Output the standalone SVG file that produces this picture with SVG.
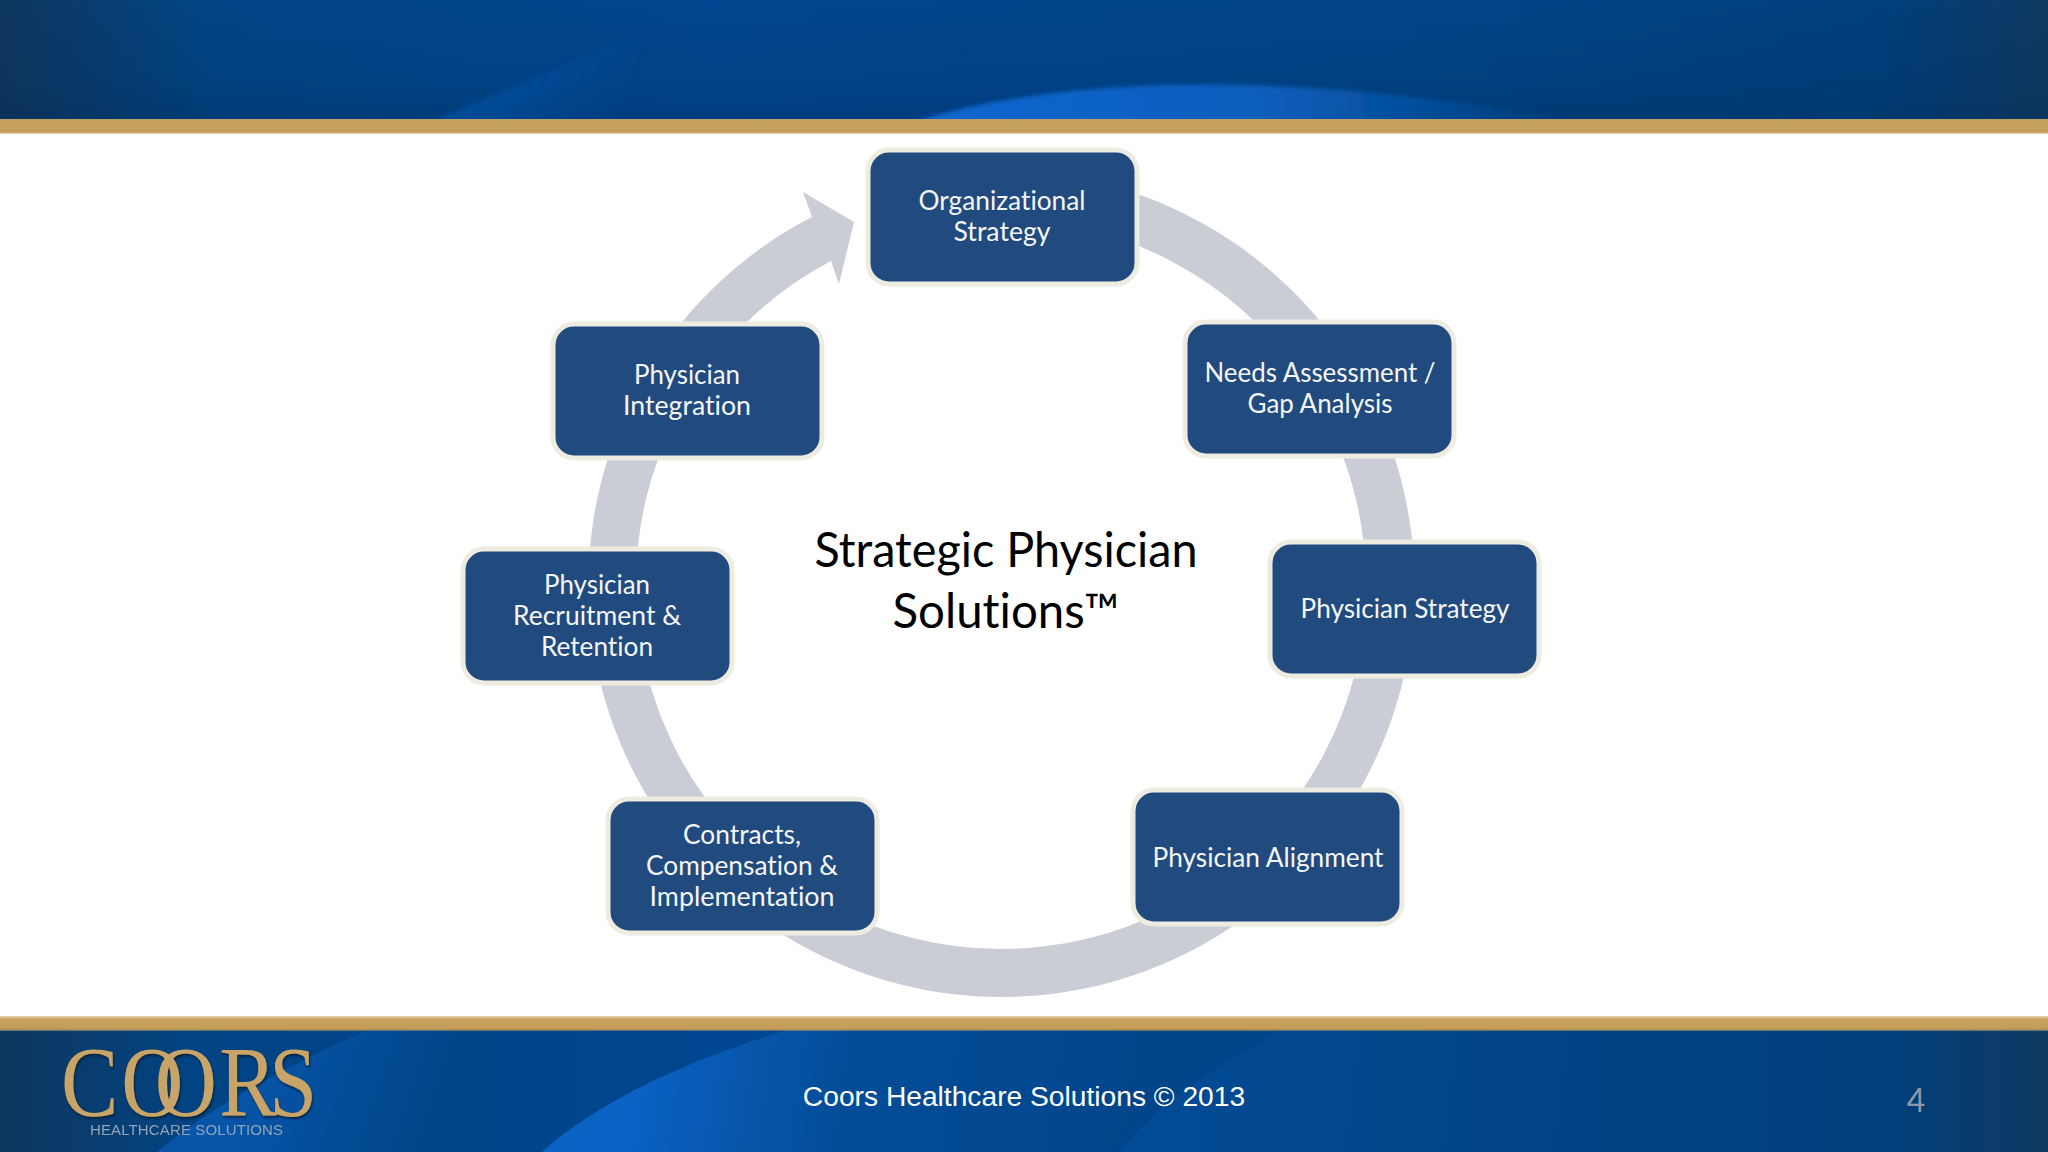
<svg xmlns="http://www.w3.org/2000/svg" width="2048" height="1152" viewBox="0 0 2048 1152">
<style>
.box{fill:#214a7e;stroke:#eeece1;stroke-width:5}
.lbl{font-family:"Lato","Noto Sans",sans-serif;font-size:26px;fill:#f4f6fa;text-anchor:middle;font-variant-ligatures:none}
.title{font-family:"Lato","Noto Sans",sans-serif;font-size:48px;fill:#000;text-anchor:middle;font-variant-ligatures:none}
.logo{font-family:"Liberation Serif",serif;font-size:100px;fill:#c8a468}
</style>
<defs>
<linearGradient id="bar" x1="0" x2="1" y1="0" y2="0">
<stop offset="0" stop-color="#10375f"/><stop offset=".1" stop-color="#004484"/><stop offset=".35" stop-color="#004690"/><stop offset=".7" stop-color="#004486"/><stop offset=".92" stop-color="#003f7c"/><stop offset="1" stop-color="#103a62"/>
</linearGradient>
<linearGradient id="shade" x1="0" x2="0" y1="0" y2="1">
<stop offset="0" stop-color="#001c40" stop-opacity="0"/><stop offset=".7" stop-color="#001c40" stop-opacity=".1"/><stop offset="1" stop-color="#001c40" stop-opacity=".22"/>
</linearGradient>
<linearGradient id="gold" x1="0" x2="0" y1="0" y2="1">
<stop offset="0" stop-color="#b8a26c"/><stop offset=".2" stop-color="#c8a45c"/><stop offset=".85" stop-color="#c49c58"/><stop offset="1" stop-color="#e8d8bc"/>
</linearGradient>
<linearGradient id="gold2" x1="0" x2="0" y1="0" y2="1">
<stop offset="0" stop-color="#e8d8bc"/><stop offset=".2" stop-color="#c8a45c"/><stop offset=".85" stop-color="#c49c58"/><stop offset="1" stop-color="#5a7078"/>
</linearGradient>
<linearGradient id="hdrSw" gradientUnits="userSpaceOnUse" x1="950" y1="0" x2="1570" y2="0">
<stop offset="0" stop-color="#0a66cf"/><stop offset=".5" stop-color="#0a5ebc"/><stop offset="1" stop-color="#0a5ebc" stop-opacity="0"/>
</linearGradient>
<linearGradient id="hdrW" gradientUnits="userSpaceOnUse" x1="470" y1="60" x2="620" y2="120">
<stop offset="0" stop-color="#0a58b4" stop-opacity=".55"/><stop offset="1" stop-color="#0a58b4" stop-opacity="0"/>
</linearGradient>
<linearGradient id="ftSw" gradientUnits="userSpaceOnUse" x1="640" y1="1070" x2="1150" y2="1150">
<stop offset="0" stop-color="#0a62c4"/><stop offset=".4" stop-color="#054e9a" stop-opacity=".8"/><stop offset="1" stop-color="#054e9a" stop-opacity="0"/>
</linearGradient>
<linearGradient id="ftL" gradientUnits="userSpaceOnUse" x1="250" y1="1070" x2="430" y2="1130">
<stop offset="0" stop-color="#0a5cb8" stop-opacity=".7"/><stop offset="1" stop-color="#0a5cb8" stop-opacity="0"/>
</linearGradient>
<linearGradient id="ftR" gradientUnits="userSpaceOnUse" x1="1180" y1="1080" x2="1560" y2="1130">
<stop offset="0" stop-color="#0a58b0" stop-opacity=".3"/><stop offset="1" stop-color="#0a58b0" stop-opacity="0"/>
</linearGradient>
<filter id="soft" x="-5%" y="-20%" width="110%" height="140%"><feGaussianBlur stdDeviation=".6"/></filter>
<filter id="blur" x="-5%" y="-20%" width="110%" height="140%"><feGaussianBlur stdDeviation="2"/></filter>
<filter id="logoSh" x="-5%" y="-10%" width="110%" height="125%"><feDropShadow dx="1" dy="2" stdDeviation="1.2" flood-color="#06142c" flood-opacity=".8"/></filter>
</defs>

<rect width="2048" height="1152" fill="#ffffff"/>

<g id="header">
<rect width="2048" height="120" fill="url(#bar)"/>
<rect width="2048" height="120" fill="url(#shade)"/>
<path d="M431 122 L679 15 L640 122 Z" fill="url(#hdrW)" filter="url(#blur)"/>
<path d="M914 122 C1000 94 1120 82 1241 85 C1340 87 1470 100 1580 122 Z" fill="url(#hdrSw)" filter="url(#blur)"/>
<rect y="119" width="2048" height="15" fill="url(#gold)"/>
</g>

<g id="footer">
<rect y="1031" width="2048" height="121" fill="url(#bar)"/>
<path d="M366 1031 C300 1060 220 1100 157 1152 L560 1152 L620 1031 Z" fill="url(#ftL)"/>
<path d="M784 1031 C690 1060 600 1100 542 1152 L1110 1152 L1310 1031 Z" fill="url(#ftSw)"/>
<path d="M1280 1031 C1210 1070 1150 1110 1120 1152 L1600 1152 L1700 1031 Z" fill="url(#ftR)"/>
<rect y="1016" width="2048" height="15" fill="url(#gold2)"/>
</g>

<g id="logo">
<text class="logo" transform="scale(.86 1)" y="1115" x="71 141 180 255 313" filter="url(#logoSh)">COORS</text>
<text x="90" y="1135" font-family="Liberation Sans, sans-serif" font-size="15" fill="#93a3b8" textLength="193" lengthAdjust="spacing" filter="url(#soft)">HEALTHCARE SOLUTIONS</text>
</g>

<text id="footer-text" x="1024" y="1106" font-family="Liberation Sans, sans-serif" font-size="28.2" fill="#ffffff" text-anchor="middle">Coors Healthcare Solutions © 2013</text>
<text id="page-number" x="1916" y="1112" font-family="Lato, sans-serif" font-size="32" fill="#8e9aac" text-anchor="middle">4</text>

<g id="connectors">
<path d="M812 217 A413 413 0 1 0 1002 171 L1002 219 A365 365 0 1 1 831 261 L839 284 L854 222 L803 192 Z" fill="#cacdd6"/>
</g>

<g id="center-title">
<text class="title" x="1006" y="567" textLength="383" lengthAdjust="spacingAndGlyphs">Strategic Physician</text>
<text class="title" x="1006" y="628" textLength="227" lengthAdjust="spacingAndGlyphs">Solutions™</text>
</g>

<g id="node-organizational-strategy" transform="translate(1002 217)">
<rect class="box" x="-134" y="-67" width="269" height="134" rx="21"/>
<text class="lbl" y="-7" textLength="167" lengthAdjust="spacingAndGlyphs">Organizational</text>
<text class="lbl" y="24" textLength="97" lengthAdjust="spacingAndGlyphs">Strategy</text>
</g>
<g id="node-needs-assessment" transform="translate(1319 389)">
<rect class="box" x="-134" y="-67" width="269" height="134" rx="21"/>
<text class="lbl" y="-7" textLength="231" lengthAdjust="spacingAndGlyphs" x="1">Needs Assessment /</text>
<text class="lbl" y="24" textLength="145" lengthAdjust="spacingAndGlyphs" x="1">Gap Analysis</text>
</g>
<g id="node-physician-strategy" transform="translate(1404 609)">
<rect class="box" x="-134" y="-67" width="269" height="134" rx="21"/>
<text class="lbl" y="9" textLength="209" lengthAdjust="spacingAndGlyphs" x="1">Physician Strategy</text>
</g>
<g id="node-physician-alignment" transform="translate(1267 857)">
<rect class="box" x="-134" y="-67" width="269" height="134" rx="21"/>
<text class="lbl" y="10" textLength="231" lengthAdjust="spacingAndGlyphs" x="1">Physician Alignment</text>
</g>
<g id="node-contracts" transform="translate(742 866)">
<rect class="box" x="-134" y="-67" width="269" height="134" rx="21"/>
<text class="lbl" y="-22" textLength="118" lengthAdjust="spacingAndGlyphs">Contracts,</text>
<text class="lbl" y="9" textLength="192" lengthAdjust="spacingAndGlyphs">Compensation &amp;</text>
<text class="lbl" y="40" textLength="185" lengthAdjust="spacingAndGlyphs">Implementation</text>
</g>
<g id="node-recruitment" transform="translate(597 616)">
<rect class="box" x="-134" y="-67" width="269" height="134" rx="21"/>
<text class="lbl" y="-22" textLength="106" lengthAdjust="spacingAndGlyphs">Physician</text>
<text class="lbl" y="9" textLength="168" lengthAdjust="spacingAndGlyphs">Recruitment &amp;</text>
<text class="lbl" y="40" textLength="112" lengthAdjust="spacingAndGlyphs">Retention</text>
</g>
<g id="node-integration" transform="translate(687 391)">
<rect class="box" x="-134" y="-67" width="269" height="134" rx="21"/>
<text class="lbl" y="-7" textLength="106" lengthAdjust="spacingAndGlyphs">Physician</text>
<text class="lbl" y="24" textLength="128" lengthAdjust="spacingAndGlyphs">Integration</text>
</g>
</svg>
